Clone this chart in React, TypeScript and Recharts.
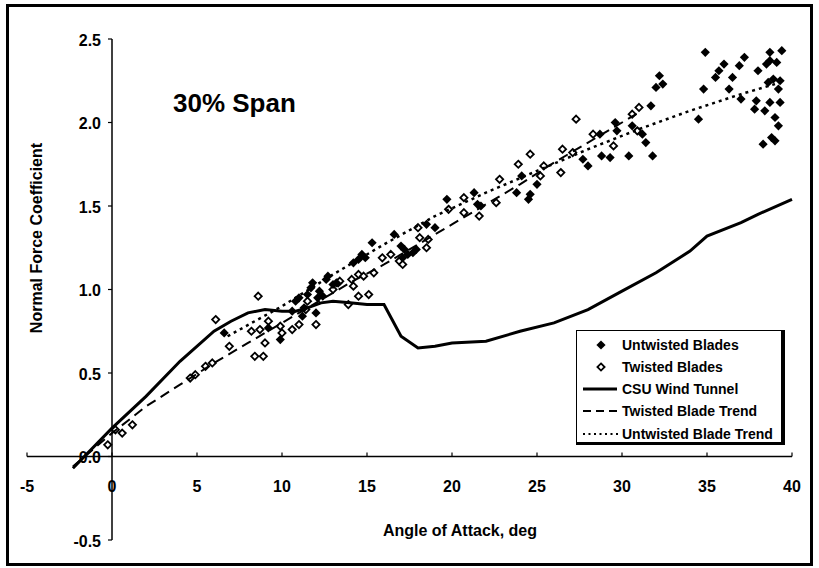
import React from "react";
import { ScatterChart, Scatter, XAxis, YAxis, ReferenceLine } from "recharts";

// axis ranges and ticks
const xTicks = [-5, 0, 5, 10, 15, 20, 25, 30, 35, 40];
const yTicks = [-0.5, 0, 0.5, 1.0, 1.5, 2.0, 2.5];

// Twisted blades (open diamonds)
const twistedBlades = [
    [-0.25, 0.07], [0.2, 0.16], [0.6, 0.14], [1.2, 0.19], [4.6, 0.47], [4.9, 0.49], [5.5, 0.54],
    [5.9, 0.56], [6.1, 0.82], [6.9, 0.66], [8.2, 0.75], [8.4, 0.6], [8.6, 0.96], [8.7, 0.76],
    [8.9, 0.6], [9.0, 0.68], [9.2, 0.81], [9.9, 0.78], [10.0, 0.74], [10.6, 0.76], [11.0, 0.79],
    [11.4, 0.88], [11.5, 0.93], [12.0, 0.79], [13.0, 1.0], [13.3, 1.04], [13.4, 1.05], [13.9, 0.91],
    [14.1, 1.06], [14.2, 1.02], [14.5, 0.96], [14.5, 1.09], [14.8, 1.08], [15.1, 0.97], [15.4, 1.1],
    [15.9, 1.19], [16.4, 1.21], [16.9, 1.17], [17.1, 1.15], [18.0, 1.37], [18.1, 1.31], [18.5, 1.25],
    [18.6, 1.3], [19.8, 1.48], [20.7, 1.55], [20.7, 1.46], [21.6, 1.44], [22.6, 1.52], [22.8, 1.66],
    [23.9, 1.75], [24.6, 1.81], [25.2, 1.68], [25.4, 1.74], [26.4, 1.7], [26.5, 1.84], [27.1, 1.82],
    [27.3, 2.02], [28.3, 1.93], [29.5, 1.86], [30.6, 2.05], [30.9, 1.95], [31.0, 2.09],
].map(([x, y]) => ({ x, y }));

// Untwisted blades (filled diamonds)
const untwistedBlades = [
    [6.6, 0.74], [9.2, 0.77], [9.9, 0.7], [10.6, 0.87], [10.8, 0.93], [11.0, 0.95], [11.2, 0.84],
    [11.3, 0.89], [11.5, 0.97], [11.7, 1.01], [11.8, 1.04], [12.0, 0.86], [12.1, 0.95], [12.2, 0.99],
    [12.4, 0.96], [12.6, 1.06], [12.7, 1.08], [13.0, 1.03], [13.2, 1.04], [14.2, 1.16], [14.5, 1.18],
    [14.7, 1.21], [14.9, 1.19], [15.3, 1.28], [16.6, 1.33], [17.0, 1.26], [17.1, 1.19], [17.2, 1.24],
    [17.4, 1.21], [17.7, 1.22], [17.9, 1.24], [18.5, 1.39], [19.0, 1.37], [19.7, 1.54], [21.3, 1.58],
    [21.5, 1.51], [21.7, 1.5], [23.8, 1.58], [24.1, 1.68], [24.5, 1.54], [24.6, 1.57], [25.0, 1.63],
    [27.7, 1.78], [28.0, 1.74], [28.7, 1.93], [28.8, 1.8], [29.3, 1.79], [29.6, 2.0], [29.7, 1.95],
    [30.4, 1.8], [30.6, 1.98], [31.2, 1.93], [31.4, 1.88], [31.7, 2.1], [31.8, 1.8], [32.0, 2.21],
    [32.2, 2.28], [32.4, 2.23], [34.5, 2.02], [34.8, 2.2], [34.9, 2.42], [35.5, 2.27], [35.7, 2.31],
    [36.0, 2.35], [36.3, 2.2], [36.5, 2.27], [36.9, 2.34], [37.0, 2.14], [37.2, 2.39], [37.8, 2.08],
    [37.9, 2.13], [38.0, 2.31], [38.3, 1.87], [38.4, 2.07], [38.5, 2.35], [38.6, 2.24], [38.7, 2.42],
    [38.7, 2.37], [38.7, 2.12], [38.8, 1.91], [38.9, 2.26], [39.0, 2.03], [39.0, 1.89], [39.1, 2.36],
    [39.2, 2.2], [39.2, 1.98], [39.3, 2.25], [39.3, 2.12], [39.4, 2.43],
].map(([x, y]) => ({ x, y }));

// CSU wind tunnel curve
const csuWindTunnel = [
    [-2.3, -0.07], [0, 0.17], [2, 0.36], [4, 0.57], [6, 0.75], [7, 0.81], [8, 0.86], [9, 0.88],
    [10, 0.87], [10.8, 0.87], [11.5, 0.89], [12.3, 0.92], [13, 0.93], [14, 0.92], [15, 0.91],
    [16, 0.91], [17, 0.72], [18, 0.65], [19, 0.66], [20, 0.68], [22, 0.69], [24, 0.75], [26, 0.8],
    [28, 0.88], [30, 0.99], [32, 1.1], [34, 1.23], [35, 1.32], [37, 1.4], [38, 1.45], [40, 1.54],
].map(([x, y]) => ({ x, y }));

// trend lines
const twistedTrend = [
    [-2.3, -0.06], [0, 0.14], [2, 0.3], [4, 0.43], [6, 0.56], [8, 0.68], [10, 0.8], [12, 0.92],
    [14, 1.04], [16, 1.15], [18, 1.27], [20, 1.39], [22, 1.51], [24, 1.63], [26, 1.76], [28, 1.88],
    [30, 2.0], [31, 2.06],
].map(([x, y]) => ({ x, y }));

const untwistedTrend = [
    [6.8, 0.72], [10, 0.9], [13, 1.09], [16, 1.27], [19, 1.44], [22, 1.58], [25, 1.71], [28, 1.84],
    [31, 1.96], [34, 2.07], [37, 2.17], [39, 2.23],
].map(([x, y]) => ({ x, y }));

const legendItems = [
    { label: "Untwisted Blades", kind: "filled" },
    { label: "Twisted Blades", kind: "open" },
    { label: "CSU Wind Tunnel", kind: "solid" },
    { label: "Twisted Blade Trend", kind: "dashed" },
    { label: "Untwisted Blade Trend", kind: "dotted" },
];

const W = 819;
const H = 568;
const X_AXIS_H = 28;
const Y_AXIS_W = 27;
const MARGIN = { top: 39, right: 27, bottom: 0, left: 0 };
const PLOT_W = W - Y_AXIS_W - MARGIN.right;
const PLOT_H = H - MARGIN.top - X_AXIS_H;
const X_MIN = -5, X_MAX = 40, Y_MIN = -0.5, Y_MAX = 2.5;
const FONT = "'Liberation Sans', Arial, sans-serif";

const DASH = "10 6";
const DOTS = "3 4";

function FilledDiamond(props: any) {
    const { cx, cy } = props;
    const r = 4.6;
    return <polygon points={`${cx},${cy - r} ${cx + r},${cy} ${cx},${cy + r} ${cx - r},${cy}`} fill="#000" />;
}

function OpenDiamond(props: any) {
    const { cx, cy } = props;
    const r = 3.6;
    return <polygon points={`${cx},${cy - r} ${cx + r},${cy} ${cx},${cy + r} ${cx - r},${cy}`}
        fill="#fff" stroke="#000" strokeWidth={1.8} />;
}

const NoShape = () => <g />;

// x ticks sit on the y=0 line, not on the bottom of the plot
function renderXTick(props: any) {
    const { x, y, payload } = props;
    const zeroY = y - PLOT_H * (0 - Y_MIN) / (Y_MAX - Y_MIN);
    return <g key={`xt-${payload.value}`}>
        <line x1={x} x2={x} y1={zeroY} y2={zeroY - 4} stroke="#000" strokeWidth={1.2} />
        <text x={x} y={zeroY + 30} textAnchor="middle" dominantBaseline="central"
            fontFamily={FONT} fontWeight="bold" fontSize={16} fill="#000">{payload.value}</text>
    </g>;
}

// y ticks sit on the x=0 line
function renderYTick(props: any) {
    const { x, y, payload } = props;
    const zeroX = x + PLOT_W * (0 - X_MIN) / (X_MAX - X_MIN);
    return <g key={`yt-${payload.value}`}>
        <line x1={zeroX - 4} x2={zeroX} y1={y} y2={y} stroke="#000" strokeWidth={1.2} />
        <text x={zeroX - 11} y={y + 1} textAnchor="end" dominantBaseline="central"
            fontFamily={FONT} fontWeight="bold" fontSize={16} fill="#000">{Number(payload.value).toFixed(1)}</text>
    </g>;
}

function LegendSample({ kind }: { kind: string }) {
    return <svg width={40} height={20} style={{ display: "block" }}>
        {kind === "filled" && <FilledDiamond cx={21} cy={10} />}
        {kind === "open" && <OpenDiamond cx={21} cy={10} />}
        {kind === "solid" && <line x1={3} x2={37} y1={10} y2={10} stroke="#000" strokeWidth={3} />}
        {kind === "dashed" && <line x1={3} x2={37} y1={10} y2={10} stroke="#000" strokeWidth={2} strokeDasharray="8 5" />}
        {kind === "dotted" && <line x1={3} x2={39} y1={10} y2={10} stroke="#000" strokeWidth={2} strokeDasharray="2 3.5" />}
    </svg>;
}

export default function App() {
    return <div style={{ position: "absolute", left: 0, top: 0, width: W, height: H, background: "#fff", fontFamily: FONT }}>
        <div style={{ position: "absolute", left: 6, top: 4, width: 807, height: 562, border: "3px solid #000", boxSizing: "border-box" }} />
        <ScatterChart width={W} height={H} margin={MARGIN} style={{ position: "absolute", left: 0, top: 0 }}>
            <XAxis type="number" dataKey="x" domain={[X_MIN, X_MAX]} ticks={xTicks} interval={0}
                axisLine={false} tickLine={false} tickSize={0} tickMargin={0} height={X_AXIS_H} tick={renderXTick} />
            <YAxis type="number" dataKey="y" domain={[Y_MIN, Y_MAX]} ticks={yTicks} interval={0}
                axisLine={false} tickLine={false} tickSize={0} tickMargin={0} width={Y_AXIS_W} tick={renderYTick} />
            <ReferenceLine y={0} stroke="#000" strokeWidth={1.5} />
            <ReferenceLine x={0} stroke="#000" strokeWidth={1.5} />
            <Scatter name="Twisted Blades" data={twistedBlades} shape={<OpenDiamond />} isAnimationActive={false} />
            <Scatter name="Untwisted Blades" data={untwistedBlades} shape={<FilledDiamond />} isAnimationActive={false} />
            <Scatter name="CSU Wind Tunnel" data={csuWindTunnel} shape={<NoShape />} lineType="joint"
                line={{ stroke: "#000", strokeWidth: 3 }} isAnimationActive={false} />
            <Scatter name="Twisted Blade Trend" data={twistedTrend} shape={<NoShape />} lineType="joint"
                line={{ stroke: "#000", strokeWidth: 2, strokeDasharray: DASH }} isAnimationActive={false} />
            <Scatter name="Untwisted Blade Trend" data={untwistedTrend} shape={<NoShape />} lineType="joint"
                line={{ stroke: "#000", strokeWidth: 2.5, strokeDasharray: DOTS }} isAnimationActive={false} />
        </ScatterChart>

        {/* title */}
        <div style={{ position: "absolute", left: 173, top: 90, fontSize: 26, lineHeight: "26px", fontWeight: "bold", whiteSpace: "nowrap" }}>30% Span</div>

        {/* axis titles */}
        <div style={{ position: "absolute", left: 460, top: 531, transform: "translate(-50%, -50%)", fontSize: 16, fontWeight: "bold", whiteSpace: "nowrap" }}>Angle of Attack, deg</div>
        <div style={{ position: "absolute", left: 37, top: 238, transform: "translate(-50%, -50%) rotate(-90deg)", fontSize: 16, fontWeight: "bold", whiteSpace: "nowrap" }}>Normal Force Coefficient</div>

        {/* legend */}
        <div style={{
            position: "absolute", left: 576, top: 330, width: 209, height: 115, boxSizing: "border-box", background: "#fff",
            borderTop: "1.5px solid #000", borderLeft: "1.5px solid #000", borderRight: "4px solid #000", borderBottom: "3px solid #000"
        }}>
            {legendItems.map((item, i) => (
                <div key={item.label} style={{ position: "absolute", left: 3, top: 2.5 + i * 22.3, height: 22, display: "flex", alignItems: "center" }}>
                    <LegendSample kind={item.kind} />
                    <span style={{ fontSize: 14, fontWeight: "bold", whiteSpace: "nowrap", marginLeft: 2 }}>{item.label}</span>
                </div>
            ))}
        </div>
    </div>;
}
